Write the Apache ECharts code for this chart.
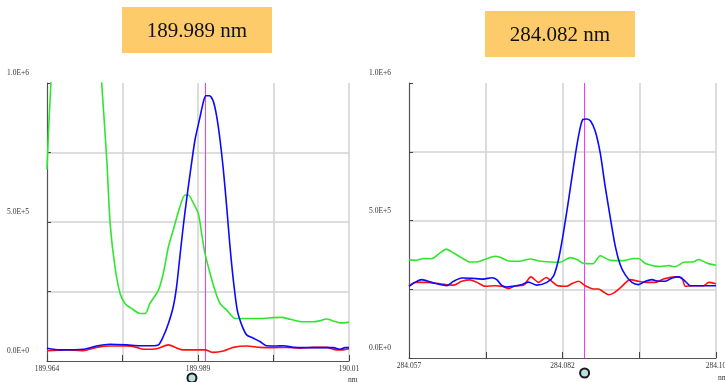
<!DOCTYPE html>
<html>
<head>
<meta charset="utf-8">
<script src="https://cdn.jsdelivr.net/npm/echarts@6/dist/echarts.min.js"></script>
<style>
html,body{margin:0;padding:0;background:#fff;}
#chart{width:725px;height:382px;}
</style>
</head>
<body>
<div id="chart"></div>
<script>
// Panel titles (wavelengths)
const panelTitles = ['189.989 nm', '284.082 nm'];
const xUnit = 'nm';
// X positions are in percent of the spectral window (0 = left edge, 100 = right edge)
const leftTickLabels = ['189.964', '', '189.989', '', '190.01'];
const rightTickLabels = ['284.057', '', '284.082', '', '284.10'];
const yTickLabels = ['0.0E+0', '', '5.0E+5', '', '1.0E+6'];
// Selected-wavelength marker (vertical magenta line) position in window percent
const leftMarker = 52.3;
const rightMarker = 57.2;

// Left panel (189.989 nm) intensities [position, counts]
const leftGreen = [
  [0,690000],[0.6,850000],[1.3,1000000],[2.5,1300000],[10,1500000],[16,1300000],[17,1170000],
  [18.1,1000000],[19.8,723000],[20.9,495000],[22.5,339000],[24.2,243000],[25.8,207000],[28.0,189000],
  [30.8,171000],[32.5,171000],[34.1,207000],[36.9,255000],[38.5,315000],[40.2,411000],[41.8,471000],
  [44.0,555000],[45.7,597000],[46.8,597000],[48.5,567000],[50.1,531000],[51.2,459000],[52.3,387000],
  [54.0,315000],[55.6,255000],[57.3,207000],[59.5,183000],[62.3,153000],[66.1,153000],[71.6,153000],
  [74.9,156000],[77.7,157000],[80.5,150000],[84.3,141000],[88.2,141000],[90.4,145000],[92.6,151000],
  [94.8,144000],[97.0,137000],[100,139000]
];
const leftBlue = [
  [0,46000],[4.3,40000],[12.0,42000],[16.4,54000],[20.9,60000],[26.4,58000],[30.8,55000],[34.7,55000],
  [36.9,58000],[38.5,88000],[40.2,135000],[41.8,195000],[42.9,267000],[44.0,375000],[45.1,483000],
  [46.2,579000],[47.4,675000],[49.0,795000],[50.7,879000],[51.8,933000],[52.6,954000],[53.8,954000],
  [55.1,933000],[56.2,879000],[57.3,795000],[58.4,687000],[59.5,555000],[60.6,411000],[61.7,291000],
  [63.0,183000],[64.5,129000],[66.1,94000],[68.3,82000],[70.5,70000],[72.7,55000],[76.0,54000],
  [78.3,55000],[81.6,49000],[86.0,48000],[90.4,48000],[94.8,48000],[97.0,42000],[98.7,48000],[100,48000]
];
const leftRed = [
  [0,37000],[6.5,40000],[12.0,37000],[16.4,49000],[20.9,54000],[26.4,54000],[29.7,49000],[31.9,42000],
  [36.3,44000],[40.2,58000],[42.9,47000],[45.1,40000],[49.6,40000],[52.3,40000],[55.1,31000],[58.4,36000],
  [61.7,49000],[66.1,54000],[70.5,49000],[74.9,48000],[79.4,49000],[83.8,46000],[88.2,49000],[92.6,49000],
  [95.9,40000],[98.1,40000],[100,44000]
];

// Right panel (284.082 nm) intensities [position, counts]
const rightGreen = [
  [0,358000],[2.0,355000],[4.7,362000],[7.4,361000],[10.1,382000],[12.1,396000],[14.5,382000],
  [17.2,364000],[19.9,349000],[22.6,350000],[25.3,361000],[28.0,370000],[29.7,366000],[32.4,353000],
  [36.2,352000],[39.5,360000],[42.2,353000],[46.0,349000],[49.2,348000],[52.5,365000],[54.7,358000],
  [56.8,344000],[59.9,343000],[62.3,372000],[65.5,355000],[69.9,354000],[73.2,362000],[74.8,362000],
  [77.0,344000],[81.8,333000],[84.6,336000],[86.7,332000],[89.5,348000],[92.7,350000],[94.3,358000],
  [97.1,345000],[100,337000]
];
const rightBlue = [
  [0,261000],[2.0,275000],[4.1,285000],[7.4,275000],[10.1,267000],[12.3,263000],[14.5,279000],
  [17.2,291000],[20.4,290000],[24.2,287000],[27.0,292000],[28.6,285000],[30.2,264000],[31.8,258000],
  [34.0,261000],[36.2,265000],[38.9,276000],[41.6,265000],[44.9,275000],[47.1,299000],[48.7,358000],
  [50.3,455000],[52.0,576000],[53.6,697000],[55.2,806000],[56.6,867000],[57.9,869000],[59.2,861000],
  [60.7,824000],[62.3,745000],[63.9,624000],[65.5,515000],[67.2,406000],[68.8,339000],[70.4,303000],
  [72.6,275000],[74.8,267000],[77.0,279000],[79.1,285000],[81.3,279000],[83.5,279000],[85.7,291000],
  [87.8,295000],[90.0,279000],[91.6,263000],[93.8,263000],[97.1,263000],[100,263000]
];
const rightRed = [
  [0,261000],[2.0,275000],[5.8,275000],[10.1,270000],[14.5,265000],[17.2,279000],[19.9,284000],
  [22.1,275000],[24.8,261000],[28.0,263000],[30.2,261000],[32.4,252000],[34.6,263000],[37.3,265000],
  [39.7,295000],[42.2,275000],[44.7,293000],[46.5,279000],[48.2,264000],[51.4,261000],[53.0,270000],
  [55.2,279000],[57.4,263000],[60.1,251000],[61.7,251000],[63.4,240000],[65.0,230000],[66.6,236000],
  [68.8,255000],[72.1,285000],[74.8,279000],[77.5,275000],[80.2,275000],[82.9,287000],[86.7,295000],
  [88.9,291000],[90.0,261000],[92.7,263000],[96.0,263000],[97.6,275000],[100,270000]
];

const COLORS = { green: '#2fe62f', blue: '#0a0aff', red: '#ff1010', marker: '#ff33ff' };
const labelFont = 'Liberation Serif';

function xAxisFor(gridIndex, labels) {
  return {
    type: 'value', gridIndex: gridIndex, min: 0, max: 100, interval: 25,
    axisLine: { show: true, onZero: false, lineStyle: { color: '#555', width: 1.2 } },
    axisTick: { show: true, inside: true, length: 6, lineStyle: { color: '#444', width: 1 } },
    axisLabel: {
      margin: 4, fontSize: 7.5, fontFamily: labelFont, color: '#333',
      formatter: function (v) { return labels[Math.round(v / 25)] || ''; }
    },
    splitLine: { show: true, showMinLine: false, showMaxLine: true, lineStyle: { color: '#d2d2d2', width: 1.5 } }
  };
}
function yAxisFor(gridIndex) {
  return {
    type: 'value', gridIndex: gridIndex, min: 0, max: 1000000, interval: 250000,
    axisLine: { show: true, lineStyle: { color: '#555', width: 1.2 } },
    axisTick: { show: true, inside: true, length: 4, lineStyle: { color: '#444', width: 1 } },
    axisLabel: {
      margin: 18, fontSize: 7.5, fontFamily: labelFont, color: '#333',
      verticalAlign: 'bottom', lineHeight: 19,
      formatter: function (v) { return yTickLabels[Math.round(v / 250000)] || ''; }
    },
    splitLine: { show: true, showMinLine: false, showMaxLine: false, lineStyle: { color: '#d2d2d2', width: 1.5 } }
  };
}
function lineSeries(name, data, color, xi, marker) {
  const s = {
    name: name, type: 'line', data: data, xAxisIndex: xi, yAxisIndex: xi,
    showSymbol: false, smooth: 0.25, clip: true,
    lineStyle: { color: color, width: 1.6 }, itemStyle: { color: color }, z: 3
  };
  if (marker !== undefined) {
    s.markLine = {
      silent: true, symbol: 'none', label: { show: false },
      lineStyle: { color: COLORS.marker, width: 1, type: 'solid', opacity: 1 },
      emphasis: { disabled: true },
      data: [{ xAxis: marker, lineStyle: { color: COLORS.marker } }], z: 2
    };
  }
  return s;
}

const chart = echarts.init(document.getElementById('chart'), null, { renderer: 'canvas' });
chart.setOption({
  animation: false,
  backgroundColor: '#fff',
  grid: [
    { left: 47, top: 83, width: 302, height: 278, outerBoundsMode: 'none', containLabel: false },
    { left: 409, top: 83, width: 307, height: 275, outerBoundsMode: 'none', containLabel: false }
  ],
  xAxis: [xAxisFor(0, leftTickLabels), xAxisFor(1, rightTickLabels)],
  yAxis: [yAxisFor(0), yAxisFor(1)],
  series: [
    lineSeries('green', leftGreen, COLORS.green, 0),
    lineSeries('red', leftRed, COLORS.red, 0, leftMarker),
    lineSeries('blue', leftBlue, COLORS.blue, 0),
    lineSeries('green', rightGreen, COLORS.green, 1),
    lineSeries('red', rightRed, COLORS.red, 1, rightMarker),
    lineSeries('blue', rightBlue, COLORS.blue, 1)
  ]
});

const lx = chart.convertToPixel({ xAxisIndex: 0 }, leftMarker);
const rx = chart.convertToPixel({ xAxisIndex: 1 }, rightMarker);
const lEnd = chart.convertToPixel({ xAxisIndex: 0 }, 100);
const rEnd = chart.convertToPixel({ xAxisIndex: 1 }, 100);
const boxFill = '#FECB6B';
const unitStyle = { text: xUnit, fontSize: 7.5, fontFamily: labelFont, fill: '#333', align: 'left', verticalAlign: 'middle' };
chart.setOption({
  graphic: [
    { type: 'rect', shape: { x: 122, y: 7, width: 150, height: 46 }, style: { fill: boxFill }, z: 10 },
    { type: 'text', x: 197, y: 31, style: { text: panelTitles[0], fontSize: 21, fontFamily: 'Liberation Serif', fill: '#111', align: 'center', verticalAlign: 'middle', textAlign: 'center', textVerticalAlign: 'middle' }, z: 11 },
    { type: 'rect', shape: { x: 485, y: 11, width: 150, height: 46 }, style: { fill: boxFill }, z: 10 },
    { type: 'text', x: 560, y: 35, style: { text: panelTitles[1], fontSize: 21, fontFamily: 'Liberation Serif', fill: '#111', align: 'center', verticalAlign: 'middle', textAlign: 'center', textVerticalAlign: 'middle' }, z: 11 },
    { type: 'text', x: lEnd - 1, y: 380, style: unitStyle, z: 11 },
    { type: 'text', x: rEnd + 2, y: 378, style: unitStyle, z: 11 },
    { type: 'circle', shape: { cx: lx - 13, cy: 378, r: 4.5 }, style: { fill: '#b8e2e2', stroke: '#1a1a1a', lineWidth: 2 }, z: 10 },
    { type: 'circle', shape: { cx: rx, cy: 373, r: 4.5 }, style: { fill: '#b8e2e2', stroke: '#1a1a1a', lineWidth: 2 }, z: 10 }
  ]
});
</script>
</body>
</html>
